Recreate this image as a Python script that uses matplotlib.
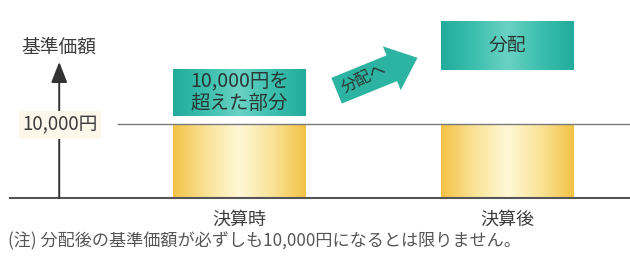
import numpy as np
import matplotlib
matplotlib.use("Agg")
import matplotlib.pyplot as plt
from matplotlib.colors import LinearSegmentedColormap

plt.rcParams['font.family'] = ['Noto Sans CJK JP', 'DejaVu Sans']

# data
categories = ['決算時', '決算後']
base_value = [10000, 10000]          # 基準価額 (gold bars)
excess_bottom = [11100, 17300]       # teal boxes: bottom
excess_top = [17400, 23900]          # teal boxes: top
excess_labels = ['10,000円を\n超えた部分', '分配']
level = 10000
level_label = '10,000円'
y_label = '基準価額'
arrow_label = '分配へ'
note = '(注) 分配後の基準価額が必ずしも10,000円になるとは限りません。'

fig = plt.figure(figsize=(6.3, 2.57), dpi=100)
ax = fig.add_axes([0, 0, 1, 1])
ax.axis('off')

width = 0.496
text_c = '#3c3c3c'

gold = LinearSegmentedColormap.from_list('gold', ['#f3c245', '#fae397', '#fff8d6', '#fae397', '#f3c245'])
teal = LinearSegmentedColormap.from_list('teal', ['#22ab9b', '#3cbfae', '#6ad2c5', '#3cbfae', '#22ab9b'])
grad = np.linspace(0, 1, 256).reshape(1, -1)

x = np.arange(len(categories))
for i, xc in enumerate(x):
    l, r = xc - width / 2, xc + width / 2
    ax.imshow(grad, cmap=gold, aspect='auto', extent=(l, r, 0, base_value[i]), zorder=1)
    ax.imshow(grad, cmap=teal, aspect='auto',
              extent=(l, r, excess_bottom[i], excess_top[i]), zorder=1)
    ax.text(xc, (excess_bottom[i] + excess_top[i]) / 2, excess_labels[i],
            ha='center', va='center', fontsize=14 if i == 0 else 13.5,
            color='#2b3735', linespacing=1.0, zorder=3)
    ax.text(xc, -3000, categories[i], ha='center', va='center',
            fontsize=13, color=text_c)

# imshow resets limits, so set them afterwards
ax.set_xlim(-0.894, 1.457)
ax.set_ylim(-7973, 26757)

# baseline and 10,000 level
ax.plot([-0.856, 1.457], [0, 0], color='#555555', lw=1.5, zorder=2)
ax.plot([-0.453, 1.457], [level, level], color='#7a7a7a', lw=1.0, zorder=2)

# y axis arrow
ax.annotate('', xy=(-0.673, 18400), xytext=(-0.673, 0),
            arrowprops=dict(arrowstyle='-|>,head_length=0.9,head_width=0.35',
                            color='#333333', lw=1.4, mutation_scale=14,
                            shrinkA=0, shrinkB=0))
ax.text(-0.673, 20400, y_label, ha='center', va='center', fontsize=13.5,
        color=text_c)
ax.text(-0.67, level - 150, level_label, ha='center', va='center', fontsize=13.5,
        color=text_c, zorder=4,
        bbox=dict(boxstyle='square,pad=0.2', fc='#fdf6ea', ec='none'))

# "分配へ" arrow
ax.annotate('', xy=(0.664, 18950), xytext=(0.362, 14500),
            arrowprops=dict(arrowstyle='simple,head_length=20,head_width=34,tail_width=20',
                            mutation_scale=1, fc='#2db3a2', ec='none',
                            shrinkA=0, shrinkB=0), zorder=2)
ax.text(0.465, 16150, arrow_label, ha='center', va='center', fontsize=11.5,
        color='#2b3735', rotation=26, zorder=3)

ax.text(-0.864, -5870, note, ha='left', va='center', fontsize=12.3, color='#555555')

fig.savefig('out.png', dpi=100)
